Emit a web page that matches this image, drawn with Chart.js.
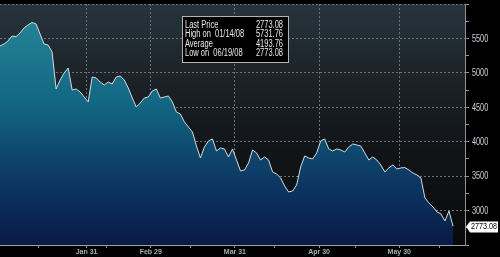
<!DOCTYPE html>
<html>
<head>
<meta charset="utf-8">
<script src="https://cdn.jsdelivr.net/npm/chart.js@4"></script>
<style>
html, body { margin: 0; padding: 0; background: #000; }
canvas { display: block; }
</style>
</head>
<body>
<canvas id="myChart" width="500" height="257"></canvas>
<script>
// daily closes, first trading day of 2008 to 06/19/08
var closes = [
  5390, 5419, 5463, 5535, 5525, 5579, 5652, 5695, 5731.76, 5710,
  5564, 5419, 5405, 5303, 4766, 4896, 4998, 5071, 4751, 4766,
  4722, 4650, 4577, 4940, 4926, 4867, 4823, 4867, 4838, 4940,
  4955, 4896, 4780, 4635, 4504, 4563, 4635, 4650, 4737, 4766,
  4635, 4650, 4664, 4577, 4432, 4403, 4287, 4214, 4141, 3938,
  3764, 3924, 4011, 4040, 3866, 3909, 3895, 3778, 3895, 3735,
  3575, 3590, 3691, 3880, 3837, 3735, 3778, 3735, 3561, 3532,
  3474, 3357, 3270, 3285, 3372, 3633, 3793, 3764, 3750, 3837,
  4011, 4040, 3895, 3866, 3895, 3880, 3851, 3924, 3967, 3953,
  3938, 3837, 3735, 3778, 3735, 3662, 3561, 3619, 3662, 3604,
  3619, 3625, 3590, 3546, 3517, 3474, 3183, 3111, 3052, 2980,
  2951, 2849, 2994, 2773.08
];
// trading-day index of month ends and mid months
var monthEnds = [21, 37, 58, 79, 99];
var monthLabels = ['Jan 31', 'Feb 29', 'Mar 31', 'Apr 30', 'May 30'];
var midMonths = [9, 26, 47, 68, 88, 109];
var yLabels = [3000, 3500, 4000, 4500, 5000, 5500];
var statNames = ['Last Price', 'High on  01/14/08', 'Average', 'Low on  06/19/08'];
var statValues = ['2773.08', '5731.76', '4193.76', '2773.08'];

var dashCol = '#69727a';
var tickShift = 0.6;

var points = closes.map(function (v, i) { return { x: i, y: v }; });

// the original uses a very condensed face, so squeeze Liberation Sans
function narrowText(c, text, x, y, align, sx) {
  c.save();
  c.translate(x, y);
  c.scale(sx, 1);
  c.textAlign = align;
  c.fillText(text, 0, 0);
  c.restore();
}

var decor = {
  id: 'decor',
  beforeDraw: function (chart) {
    var c = chart.ctx, a = chart.chartArea;
    c.save();
    c.fillStyle = '#000';
    c.fillRect(0, 0, chart.width, chart.height);
    var g = c.createLinearGradient(0, a.top, 0, a.bottom);
    g.addColorStop(0, '#27343d');
    g.addColorStop(0.3, '#1c2329');
    g.addColorStop(0.6, '#121518');
    g.addColorStop(1, '#08090a');
    c.fillStyle = g;
    c.fillRect(a.left, a.top, a.right - a.left, a.bottom - a.top);
    c.restore();
  },
  afterDraw: function (chart) {
    var c = chart.ctx;
    var ys = chart.scales.y;
    c.save();
    // y labels
    c.font = '10px "Liberation Sans"';
    c.fillStyle = '#cfd2d6';
    c.textBaseline = 'middle';
    yLabels.forEach(function (v) {
      narrowText(c, String(v), chart.chartArea.right + 7, ys.getPixelForValue(v) + 0.5, 'left', 0.73);
    });
    // stats box
    c.fillStyle = '#000';
    c.fillRect(182, 16, 107, 47);
    c.strokeStyle = '#b4b4b4';
    c.lineWidth = 1;
    c.strokeRect(182.5, 16.5, 106, 46);
    c.fillStyle = '#e8e8e8';
    c.textBaseline = 'alphabetic';
    for (var i = 0; i < statNames.length; i++) {
      var by = 28 + i * 9.4;
      narrowText(c, statNames[i], 185, by, 'left', 0.75);
      narrowText(c, statValues[i], 283, by, 'right', 0.75);
    }
    // last price tag
    var py = Math.round(ys.getPixelForValue(closes[closes.length - 1])) + 0.5;
    var lx = chart.chartArea.right + 1;
    c.fillStyle = '#fff';
    c.beginPath();
    c.moveTo(lx, py);
    c.lineTo(lx + 4, py - 5);
    c.lineTo(498, py - 5);
    c.lineTo(498, py + 6);
    c.lineTo(lx + 4, py + 6);
    c.closePath();
    c.fill();
    c.fillStyle = '#000';
    c.font = '9px "Liberation Sans"';
    c.textBaseline = 'middle';
    narrowText(c, closes[closes.length - 1].toFixed(2), lx + 5, py + 0.5, 'left', 0.8);
    c.restore();
  }
};

var ctx = document.getElementById('myChart').getContext('2d');
var myChart = new Chart(ctx, {
  type: 'line',
  data: {
    datasets: [{
      data: points,
      borderColor: '#d4dbe2',
      borderWidth: 1,
      pointRadius: 0,
      tension: 0,
      fill: 'start',
      backgroundColor: function (context) {
        var a = context.chart.chartArea;
        if (!a) return '#15607f';
        var g = context.chart.ctx.createLinearGradient(0, a.top, 0, a.bottom);
        g.addColorStop(0, '#2a909f');
        g.addColorStop(0.08, '#248294');
        g.addColorStop(0.4, '#136883');
        g.addColorStop(0.6, '#0f4a70');
        g.addColorStop(0.8, '#0c305e');
        g.addColorStop(1, '#091a45');
        return g;
      }
    }]
  },
  options: {
    responsive: false,
    animation: false,
    layout: { padding: { top: 4, left: 0, right: 0, bottom: 0 } },
    plugins: { legend: { display: false }, tooltip: { enabled: false } },
    scales: {
      x: {
        type: 'linear',
        min: 0,
        max: 116,
        z: 1,
        afterBuildTicks: function (s) {
          var t = [];
          midMonths.forEach(function (m) { t.push({ value: m + tickShift, major: false }); });
          monthEnds.forEach(function (m) { t.push({ value: m + tickShift, major: true }); });
          t.sort(function (p, q) { return p.value - q.value; });
          s.ticks = t;
        },
        afterFit: function (s) { s.height = 12; s.paddingLeft = 0; s.paddingRight = 0; },
        grid: {
          color: function (c) { return c.tick && c.tick.major ? dashCol : 'rgba(0,0,0,0)'; },
          tickColor: '#8c939a',
          tickLength: 3,
          lineWidth: 1
        },
        border: { display: true, color: '#9aa1a8', width: 1, dash: [2, 2] },
        ticks: {
          autoSkip: false,
          maxRotation: 0,
          padding: 0,
          color: '#a8aeb4',
          font: { family: 'Liberation Sans', size: 7, weight: 'bold' },
          callback: function (value) {
            for (var k = 0; k < monthEnds.length; k++) {
              if (Math.abs(monthEnds[k] + tickShift - value) < 0.01) return monthLabels[k];
            }
            return '';
          }
        }
      },
      y: {
        position: 'right',
        min: 2500,
        max: 6000,
        z: 1,
        afterFit: function (s) { s.width = 35; s.paddingTop = 0; s.paddingBottom = 0; },
        grid: {
          color: function (c) {
            var v = c.tick ? c.tick.value : 0;
            return (v % 500 === 0 && v > 2500) ? dashCol : 'rgba(0,0,0,0)';
          },
          tickColor: '#8c939a',
          tickLength: 4,
          lineWidth: 1
        },
        border: { display: true, color: '#8c939a', width: 1, dash: [2, 2] },
        ticks: {
          stepSize: 250,
          display: false
        }
      }
    }
  },
  plugins: [decor]
});
</script>
</body>
</html>
